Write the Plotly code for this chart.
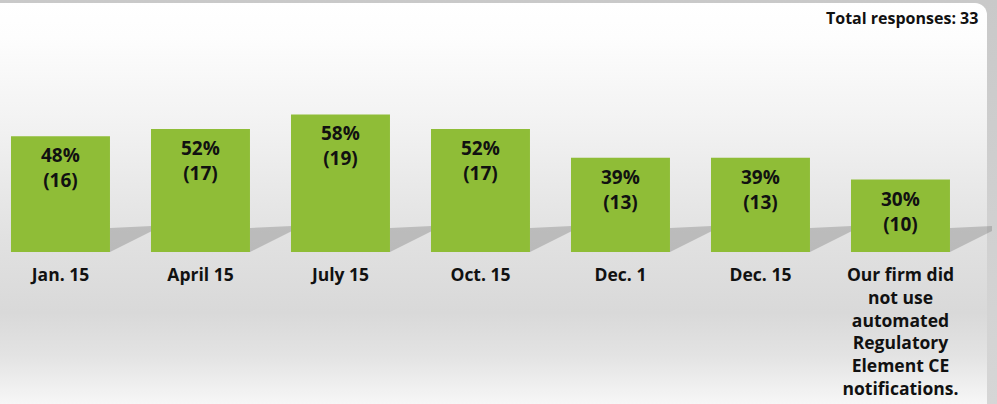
import plotly.graph_objects as go
import urllib.parse

categories = ["Jan. 15", "April 15", "July 15", "Oct. 15", "Dec. 1", "Dec. 15",
              "Our firm did<br>not use<br>automated<br>Regulatory<br>Element CE<br>notifications."]
counts = [16, 17, 19, 17, 13, 13, 10]
percents = [48, 52, 58, 52, 39, 39, 30]
total_label = "Total responses: 33"

W, H = 997, 404
PLOT_H = 252           # pixel height of plot area (baseline at y=252)
Y_MAX = 34.8           # counts at top of plot area
X_RANGE = [-0.432, -0.432 + W / 140.0]
BAR_W = 0.707

labels = [f"{p}%<br>({c})" for p, c in zip(percents, counts)]
xs = list(range(len(categories)))

fig = go.Figure()
fig.add_trace(go.Bar(
    x=xs, y=counts, width=BAR_W,
    marker=dict(color="#8fbd37", line=dict(width=0)),
    hoverinfo="skip",
))

for x, y, t in zip(xs, counts, labels):
    fig.add_annotation(x=x, y=y, xref="x", yref="y", text=t, showarrow=False,
                       xanchor="center", yanchor="top", yshift=-4, align="center",
                       font=dict(family="Open Sans", size=19, color="#111111", weight="bold"))

# background gradient as svg image
svg = (
    "<svg xmlns='http://www.w3.org/2000/svg' width='997' height='404' viewBox='0 0 997 404' preserveAspectRatio='none'>"
    "<defs><linearGradient id='g' x1='0' y1='0' x2='0' y2='1'>"
    "<stop offset='0' stop-color='#ffffff'/>"
    "<stop offset='0.08' stop-color='#fdfdfd'/>"
    "<stop offset='0.3' stop-color='#f1f1f1'/>"
    "<stop offset='0.55' stop-color='#e1e1e1'/>"
    "<stop offset='0.72' stop-color='#d9d9d9'/>"
    "<stop offset='0.82' stop-color='#e3e3e3'/>"
    "<stop offset='0.97' stop-color='#fdfdfd'/>"
    "<stop offset='1' stop-color='#ffffff'/>"
    "</linearGradient>"
    "<linearGradient id='e' x1='0' y1='0' x2='0' y2='1'>"
    "<stop offset='0' stop-color='#c9c9c9'/><stop offset='1' stop-color='#d6d6d6'/>"
    "</linearGradient></defs>"
    "<rect width='997' height='404' fill='url(#e)'/>"
    "<rect x='-20' y='3' width='1007' height='430' rx='12' ry='12' fill='url(#g)'/>"
    "</svg>"
)
uri = "data:image/svg+xml;charset=utf-8," + urllib.parse.quote(svg)
fig.add_layout_image(dict(source=uri, xref="paper", yref="paper", x=0, y=1,
                          sizex=1, sizey=H / PLOT_H, sizing="stretch",
                          xanchor="left", yanchor="top", layer="below"))

# shadows to the right of each bar
px_per_unit_x = 140.0
px_per_count = PLOT_H / Y_MAX
shapes = []
for i, c in enumerate(counts):
    r = i + BAR_W / 2
    dx = 42 / px_per_unit_x
    shapes.append(dict(
        type="path", xref="x", yref="y", layer="below",
        path=(f"M {r},0 L {r},{24 / px_per_count} L {r + dx},{26 / px_per_count} "
              f"L {r + dx},{21 / px_per_count} Z"),
        fillcolor="rgba(120,120,120,0.36)", line=dict(width=0),
    ))
fig.update_layout(shapes=shapes)

fig.add_annotation(text=total_label, xref="paper", yref="paper",
                   x=980 / W, y=(PLOT_H - 18) / PLOT_H, xanchor="right", yanchor="middle",
                   showarrow=False,
                   font=dict(family="Open Sans", size=16, color="#111111", weight="bold"))

fig.update_layout(
    width=W, height=H,
    margin=dict(l=0, r=0, t=0, b=H - PLOT_H, pad=0),
    paper_bgcolor="#ffffff", plot_bgcolor="rgba(0,0,0,0)",
    showlegend=False, bargap=0.293,
    xaxis=dict(range=X_RANGE, tickmode="array", tickvals=xs,
               ticktext=categories, showgrid=False, zeroline=False, showline=False,
               ticks="outside", ticklen=7, tickcolor="rgba(0,0,0,0)", automargin=False,
               tickfont=dict(family="Open Sans", size=17.5, color="#111111", weight="bold")),
    yaxis=dict(range=[0, Y_MAX], visible=False, fixedrange=True),
)

fig.write_html("out.html", config={"displayModeBar": False},
               post_script="document.body.style.margin='0';document.body.style.overflow='hidden';")
